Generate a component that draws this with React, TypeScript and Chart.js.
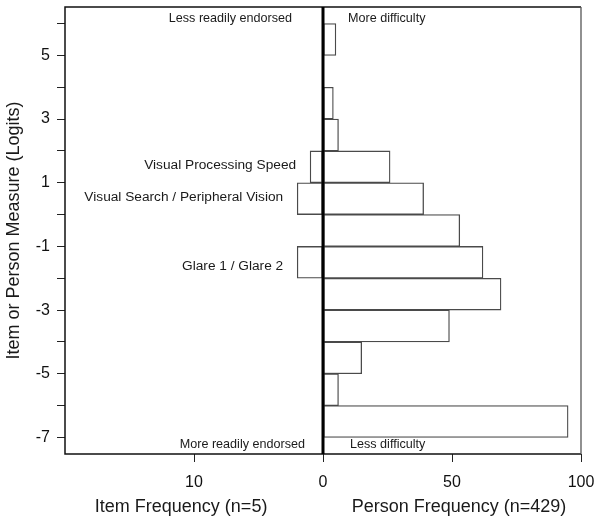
import React, { useEffect, useRef } from "react";
import { Chart, registerables } from "chart.js";

Chart.register(...registerables);

// Person histogram: bins of one logit, given by their lower edge
const personBinLower = [5, 4, 3, 2, 1, 0, -1, -2, -3, -4, -5, -6, -7];
const personCounts = [5, 0, 4, 6, 26, 39, 53, 62, 69, 49, 15, 6, 95];

// Item histogram (drawn to the left)
const itemBinLower = [1, 0, -2];
const itemCounts = [1, 2, 2];
const itemNames = [
  "Visual Processing Speed",
  "Visual Search / Peripheral Vision",
  "Glare 1 / Glare 2",
];
const itemLabelLogit = [1.54, 0.56, -1.61];
const itemToPersonUnits = 5; // one item is drawn as wide as five persons

const yTickValues = [-7, -6, -5, -4, -3, -2, -1, 0, 1, 2, 3, 4, 5, 6];
const yLabelledTicks = [-7, -5, -3, -1, 1, 3, 5];
const xTickValues = [-50, 0, 50, 100];
const xTickLabels = ["10", "0", "50", "100"];

const yTitle = "Item or Person Measure (Logits)";
const xTitleLeft = "Item Frequency (n=5)";
const xTitleRight = "Person Frequency (n=429)";
const cornerTopLeft = "Less readily endorsed";
const cornerTopRight = "More difficulty";
const cornerBottomLeft = "More readily endorsed";
const cornerBottomRight = "Less difficulty";

const FAMILY = '"Liberation Sans", Arial, Helvetica, sans-serif';
const font = (s: number) => `${s}px ${FAMILY}`;

const decorPlugin = {
  id: "decor",
  afterDatasetsDraw(chart: any) {
    const { ctx, chartArea } = chart;
    const xs = chart.scales.x;
    const ys = chart.scales.y;
    const { left, right, top, bottom } = chartArea;
    const cx = xs.getPixelForValue(0);
    ctx.save();

    // plot box
    ctx.lineWidth = 1.5;
    ctx.strokeStyle = "#111";
    ctx.beginPath();
    ctx.moveTo(right, bottom);
    ctx.lineTo(left, bottom);
    ctx.lineTo(left, top);
    ctx.lineTo(right, top);
    ctx.stroke();
    ctx.strokeStyle = "#555";
    ctx.lineWidth = 1.3;
    ctx.beginPath();
    ctx.moveTo(right, top);
    ctx.lineTo(right, bottom);
    ctx.stroke();

    // zero line
    ctx.strokeStyle = "#000";
    ctx.lineWidth = 3;
    ctx.beginPath();
    ctx.moveTo(cx, top);
    ctx.lineTo(cx, bottom);
    ctx.stroke();

    ctx.fillStyle = "#1a1a1a";
    ctx.textBaseline = "middle";

    // corner annotations
    ctx.font = font(12.6);
    ctx.textAlign = "right";
    ctx.fillText(cornerTopLeft, cx - 31, top + 11.5);
    ctx.fillText(cornerBottomLeft, cx - 18, bottom - 9);
    ctx.textAlign = "left";
    ctx.fillText(cornerTopRight, cx + 25, top + 11.5);
    ctx.fillText(cornerBottomRight, cx + 27, bottom - 9);

    // item labels
    ctx.font = font(13.7);
    ctx.textAlign = "right";
    itemNames.forEach((name, i) => {
      const barLeft = xs.getPixelForValue(-itemCounts[i] * itemToPersonUnits);
      ctx.fillText(name, barLeft - 14, ys.getPixelForValue(itemLabelLogit[i]));
    });

    // axis titles
    ctx.font = font(18);
    ctx.textAlign = "center";
    ctx.fillText(xTitleLeft, xs.getPixelForValue(-55), bottom + 53);
    ctx.fillText(xTitleRight, xs.getPixelForValue(52.7), bottom + 53);

    ctx.translate(14.5, (top + bottom) / 2);
    ctx.rotate(-Math.PI / 2);
    ctx.fillText(yTitle, 0, 0);

    ctx.restore();
  },
};

const zeroPadding = (s: any) => {
  s.paddingTop = 0;
  s.paddingBottom = 0;
  s.paddingLeft = 0;
  s.paddingRight = 0;
};

export default function App() {
  const ref = useRef<HTMLCanvasElement | null>(null);

  useEffect(() => {
    if (!ref.current) return;
    const personData = personBinLower.map((lo, i) => ({ x: personCounts[i], y: lo + 0.5 }));
    const itemData = itemBinLower.map((lo, i) => ({
      x: -itemCounts[i] * itemToPersonUnits,
      y: lo + 0.5,
    }));

    const chart = new Chart(ref.current, {
      type: "bar",
      data: {
        datasets: [
          {
            label: "Persons",
            data: personData as any,
            backgroundColor: "#ffffff",
            borderColor: "#4a4a4a",
            borderWidth: 1.3,
            borderSkipped: false,
            categoryPercentage: 1,
            barPercentage: 1,
            grouped: false,
          } as any,
          {
            label: "Items",
            data: itemData as any,
            backgroundColor: "#ffffff",
            borderColor: "#4a4a4a",
            borderWidth: 1.3,
            borderSkipped: false,
            categoryPercentage: 1,
            barPercentage: 1,
            grouped: false,
          } as any,
        ],
      },
      options: {
        indexAxis: "y",
        responsive: false,
        animation: false,
        events: [],
        layout: { padding: { left: 0, right: 20, top: 7, bottom: 29 } },
        plugins: {
          legend: { display: false },
          tooltip: { enabled: false },
          title: { display: false },
        },
        scales: {
          x: {
            type: "linear",
            position: "bottom",
            min: -100,
            max: 100,
            offset: false,
            border: { display: false },
            grid: {
              offset: false,
              drawOnChartArea: false,
              drawTicks: true,
              tickLength: 8,
              color: "#222",
              lineWidth: 1,
            },
            ticks: {
              autoSkip: false,
              maxRotation: 0,
              padding: 11,
              color: "#111",
              font: { family: FAMILY, size: 16 },
              callback: (v: any) => {
                const i = xTickValues.indexOf(Number(v));
                return i >= 0 ? xTickLabels[i] : "";
              },
            },
            afterBuildTicks: (s: any) => {
              s.ticks = xTickValues.map((v) => ({ value: v }));
            },
            afterFit: (s: any) => {
              s.height = 40;
              zeroPadding(s);
            },
          },
          y: {
            type: "linear",
            position: "left",
            min: -7.52,
            max: 6.52,
            offset: false,
            border: { display: false },
            grid: {
              offset: false,
              drawOnChartArea: false,
              drawTicks: true,
              tickLength: 8,
              color: "#222",
              lineWidth: 1,
            },
            ticks: {
              autoSkip: false,
              padding: 7,
              color: "#111",
              font: { family: FAMILY, size: 16 },
              callback: (v: any) => (yLabelledTicks.includes(Number(v)) ? String(v) : ""),
            },
            afterBuildTicks: (s: any) => {
              s.ticks = yTickValues.map((v) => ({ value: v }));
            },
            afterFit: (s: any) => {
              s.width = 65;
              zeroPadding(s);
            },
          },
        },
      } as any,
      plugins: [decorPlugin],
    });
    return () => chart.destroy();
  }, []);

  return (
    <div style={{ position: "fixed", left: 0, top: 0, width: 601, height: 523, background: "#fff" }}>
      <canvas ref={ref} width={601} height={523} style={{ display: "block" }} />
    </div>
  );
}
